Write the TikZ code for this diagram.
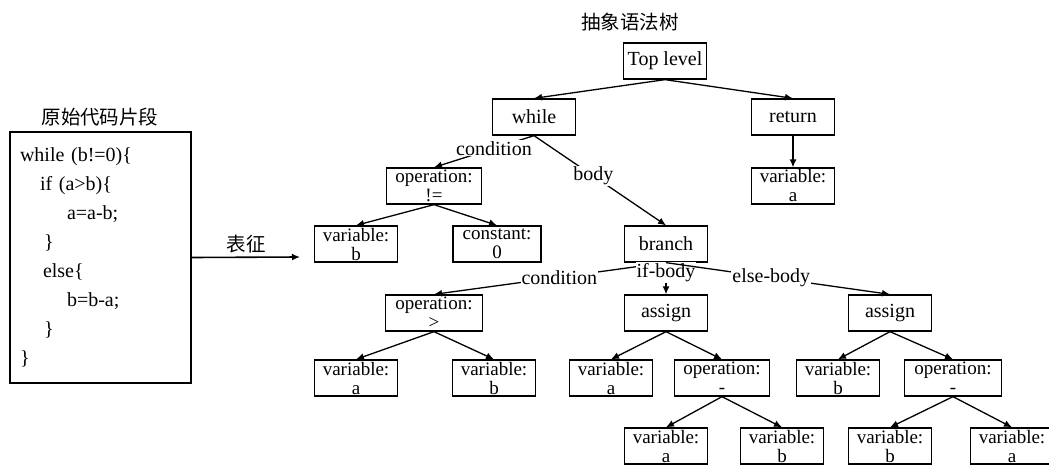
\documentclass[tikz,border=0pt]{standalone}
\usepackage{fontspec}
\setmainfont{Liberation Serif}
\newfontfamily\cjk{Noto Sans CJK SC}
\usetikzlibrary{arrows.meta}
\usetikzlibrary{positioning}

\begin{document}
\begin{tikzpicture}[x=1pt, y=-1pt, knoten/.style={draw, line width=1.3pt, minimum width=83pt, minimum height=36pt, inner sep=0pt, align=center, font=\fontsize{19}{19}\selectfont}, kante/.style={line width=1.3pt, -{Latex[length=8pt,width=7pt]}}, marke/.style={fill=white, inner sep=1pt, font=\fontsize{20}{20}\selectfont}, titel/.style={font=\cjk\fontsize{19.5}{19.5}\selectfont}]
	\useasboundingbox (0,0) rectangle (1049,468);
	% Quellcode links
	\node[draw, line width=2.2pt, minimum height=251pt, text width=161pt, inner xsep=10pt, align=left, font=\fontsize{20}{29}\selectfont] (code) at (100.5,257.5) {while (b!=0)\{\\ \hspace*{20pt}if (a>b)\{\\ \hspace*{47pt}a=a-b;\\ \hspace*{24pt}\}\\ \hspace*{23pt}else\{\\ \hspace*{47pt}b=b-a;\\ \hspace*{24pt}\}\\ \}};
	\node[titel] (codetitel) at (100,117) {原始代码片段};
	\coordinate (ziel) at (300,257);
	\draw[line width=1.6pt, -{Latex[length=8pt,width=7pt]}] (code.east) -- node[above, titel] (repr) {表征} (ziel);
	% Baum
	\node[titel] (asttitel) at (630,22) {抽象语法树};
	\node[knoten, font=\fontsize{20}{20}\selectfont] (top) at (665,61) {Top level};
	\node[knoten, font=\fontsize{20}{20}\selectfont] (while) at (534,117) {while};
	\node[knoten, font=\fontsize{20}{20}\selectfont] (return) at (793,117) {return};
	\node[knoten] (reta) at (793,186) {variable:\\a};
	\node[knoten, minimum width=95pt] (neq) at (434,186) {operation:\\!=};
	\node[knoten] (whb) at (356,244) {variable:\\b};
	\node[knoten, minimum width=88pt] (zero) at (497,244) {constant:\\0};
	\node[knoten, font=\fontsize{20}{20}\selectfont] (branch) at (666,244) {branch};
	\node[knoten, minimum width=97pt] (gt) at (434,313) {operation:\\>};
	\node[knoten, font=\fontsize{20}{20}\selectfont] (assif) at (666,313) {assign};
	\node[knoten, font=\fontsize{20}{20}\selectfont] (asselse) at (890,313) {assign};
	\node[knoten] (gta) at (356,378) {variable:\\a};
	\node[knoten] (gtb) at (494,378) {variable:\\b};
	\node[knoten] (ifa) at (611,378) {variable:\\a};
	\node[knoten, minimum width=95pt] (ifop) at (722,378) {operation:\\-};
	\node[knoten] (elseb) at (838,378) {variable:\\b};
	\node[knoten, minimum width=97pt] (elseop) at (953,378) {operation:\\-};
	\node[knoten] (ifopa) at (666,446) {variable:\\a};
	\node[knoten] (ifopb) at (782,446) {variable:\\b};
	\node[knoten] (elseopb) at (890,446) {variable:\\b};
	\node[knoten] (elseopa) at (1012,446) {variable:\\a};
	% Kanten
	\draw[kante] (top.south) -- (while.north);
	\draw[kante] (top.south) -- (return.north);
	\draw[kante] (return.south) -- (reta.north);
	\draw[kante] (while.south) -- node[marke, pos=0.4] (l1) {condition} (neq.north);
	\draw[kante] (while.south) -- node[marke, pos=0.45] (l2) {body} (branch.north);
	\draw[kante] (neq.south) -- (whb.north);
	\draw[kante] (neq.south) -- (zero.north);
	\draw[kante] (branch.south) -- node[marke, pos=0.46] (l3) {condition} (gt.north);
	\draw[kante] (branch.south) -- node[marke, pos=0.31] (l4) {if-body} (assif.north);
	\draw[kante] (branch.south) -- node[marke, pos=0.47] (l5) {else-body} (asselse.north);
	\draw[kante] (gt.south) -- (gta.north);
	\draw[kante] (gt.south) -- (gtb.north);
	\draw[kante] (assif.south) -- (ifa.north);
	\draw[kante] (assif.south) -- (ifop.north);
	\draw[kante] (asselse.south) -- (elseb.north);
	\draw[kante] (asselse.south) -- (elseop.north);
	\draw[kante] (ifop.south) -- (ifopa.north);
	\draw[kante] (ifop.south) -- (ifopb.north);
	\draw[kante] (elseop.south) -- (elseopb.north);
	\draw[kante] (elseop.south) -- (elseopa.north);
\end{tikzpicture}
\end{document}
